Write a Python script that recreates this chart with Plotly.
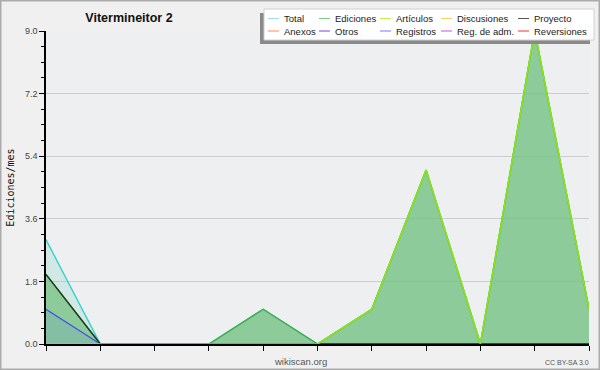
import plotly.graph_objects as go

# ---- data (11 monthly points) ----
months = list(range(11))
total      = [3, 0, 0, 0, 1, 0, 1, 5, 0, 9, 1]
ediciones  = [2, 0, 0, 0, 1, 0, 1, 5, 0, 9, 1]
articulos  = [0, 0, 0, 0, 0, 0, 1, 5, 0, 9, 1]
proyecto   = [2, 0, 0, 0, 0, 0, 0, 0, 0, 0, 0]
registros  = [1, 0, 0, 0, 0, 0, 0, 0, 0, 0, 0]

legend_row1 = ["Total", "Ediciones", "Artículos", "Discusiones", "Proyecto"]
legend_row2 = ["Anexos", "Otros", "Registros", "Reg. de adm.", "Reversiones"]
legend_colors_row1 = ["#9fdede", "#7ccc8a", "#c6ef5a", "#ffd060", "#555555"]
legend_colors_row2 = ["#ff8a4c", "#8a3ee0", "#7a7af0", "#d050e0", "#ee3434"]
y_ticks = [0.0, 1.8, 3.6, 5.4, 7.2, 9.0]

W, H = 600, 370
ML, MR, MT, MB = 46, 11, 31, 26
PW, PH = W - ML - MR, H - MT - MB


def px(x):
    return (x - ML) / PW


def py(y):
    return (H - MB - y) / PH


fig = go.Figure()
fig.add_trace(go.Scatter(x=months, y=total, mode="lines", fill="tozeroy",
                         fillcolor="rgba(110,210,190,0.22)",
                         line=dict(color="#33d2cc", width=1.4), name="Total"))
fig.add_trace(go.Scatter(x=months, y=ediciones, mode="lines", fill="tozeroy",
                         fillcolor="rgba(118,194,128,0.75)",
                         line=dict(color="#3fae48", width=1.4), name="Ediciones"))
fig.add_trace(go.Scatter(x=months, y=registros, mode="lines", fill="tozeroy",
                         fillcolor="rgba(80,110,230,0.14)",
                         line=dict(color="#3f4cf0", width=1.2), name="Registros"))
fig.add_trace(go.Scatter(x=months, y=proyecto, mode="lines",
                         line=dict(color="#223322", width=1.4), name="Proyecto"))
fig.add_trace(go.Scatter(x=months, y=articulos, mode="lines",
                         line=dict(color="#8fe21a", width=1.6), name="Artículos"))

shapes = []
annotations = []

# outer border
shapes.append(dict(type="rect", xref="paper", yref="paper",
                   x0=px(0.5), x1=px(W - 0.5), y0=py(H - 0.5), y1=py(0.5),
                   line=dict(color="#ababab", width=2), layer="below"))

# legend box with shadow
bx0, bx1, by0, by1 = 264, 594, 9, 40
shapes.append(dict(type="rect", xref="paper", yref="paper",
                   x0=px(bx0 - 4), x1=px(bx1 - 4), y0=py(by1 + 4), y1=py(by0 + 4),
                   fillcolor="#8a8a8a", line=dict(width=0)))
shapes.append(dict(type="rect", xref="paper", yref="paper",
                   x0=px(bx0), x1=px(bx1), y0=py(by1), y1=py(by0),
                   fillcolor="#ffffff", line=dict(color="#d0d0d0", width=1)))
col_x = [268, 319, 380, 441, 518]
row_y = [18.5, 31]
for r, (names, cols) in enumerate([(legend_row1, legend_colors_row1),
                                   (legend_row2, legend_colors_row2)]):
    for c, (nm, colr) in enumerate(zip(names, cols)):
        x0 = col_x[c]
        yy = row_y[r]
        shapes.append(dict(type="line", xref="paper", yref="paper",
                           x0=px(x0), x1=px(x0 + 11), y0=py(yy), y1=py(yy),
                           line=dict(color=colr, width=1)))
        annotations.append(dict(xref="paper", yref="paper", x=px(x0 + 15), y=py(yy),
                                xanchor="left", yanchor="middle", text=nm,
                                showarrow=False, borderpad=0,
                                font=dict(family="Liberation Sans", size=9.5, color="#222222")))

annotations.append(dict(xref="paper", yref="paper", x=px(300), y=py(361),
                        xanchor="center", yanchor="middle", text="wikiscan.org",
                        showarrow=False,
                        font=dict(family="Liberation Sans", size=9.5, color="#555555")))
annotations.append(dict(xref="paper", yref="paper", x=px(591), y=py(362),
                        xanchor="right", yanchor="middle", text="CC BY-SA 3.0",
                        showarrow=False,
                        font=dict(family="Liberation Sans", size=7, color="#555555")))

fig.update_layout(
    width=W, height=H,
    margin=dict(l=ML, r=MR, t=MT, b=MB, pad=0, autoexpand=False),
    paper_bgcolor="#f0f0f0",
    plot_bgcolor="#eeeff0",
    showlegend=False,
    title=dict(text="<b>Vitermineitor 2</b>", x=129 / W, xref="container",
               xanchor="center", y=1 - 18 / H, yref="container", yanchor="middle",
               font=dict(family="Liberation Sans", size=12.5, color="#111111")),
    xaxis=dict(range=[0, 10], tickvals=months, showticklabels=False,
               ticks="outside", ticklen=5, tickcolor="#000000", tickwidth=1,
               showgrid=False, zeroline=False, showline=True, automargin=False,
               linecolor="#000000", linewidth=1.5, fixedrange=True),
    yaxis=dict(range=[0, 9], tickvals=y_ticks, tickformat=".1f", automargin=False,
               ticks="outside", ticklen=5, tickcolor="#000000", tickwidth=1,
               tickfont=dict(family="Liberation Sans", size=9, color="#444444"),
               showgrid=True, gridcolor="#cdcdcd", gridwidth=1,
               zeroline=False, showline=True, linecolor="#000000", linewidth=1.5,
               minor=dict(dtick=0.45, ticks="outside", ticklen=3,
                          tickcolor="#000000", showgrid=False),
               title=dict(text="Ediciones/mes", standoff=8,
                          font=dict(family="DejaVu Sans Mono", size=10, color="#111111")),
               fixedrange=True),
    shapes=shapes,
    annotations=annotations,
)

fig.write_html("out.html")
